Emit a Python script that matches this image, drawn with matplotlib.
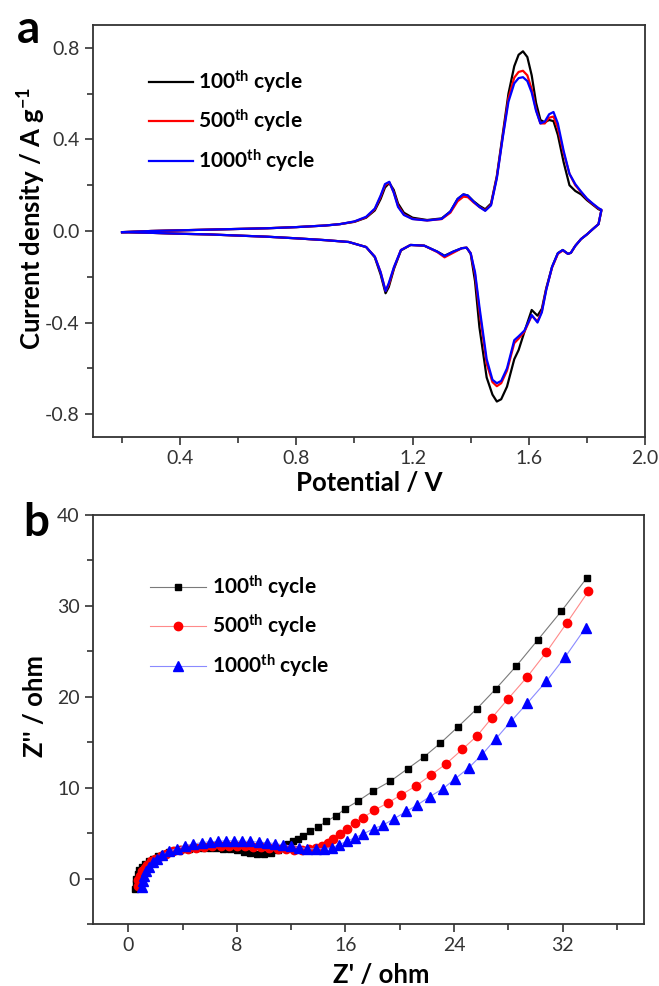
import matplotlib
matplotlib.use("Agg")
import matplotlib.pyplot as plt
from matplotlib.ticker import MultipleLocator

plt.rcParams['font.family'] = ['Lato', 'DejaVu Sans']
plt.rcParams['mathtext.default'] = 'regular'

cycles = ["100$^{th}$ cycle", "500$^{th}$ cycle", "1000$^{th}$ cycle"]
colors = ["#000000", "#ff0000", "#0000ff"]
line_colors_b = ["#7a7a7a", "#ff8a8a", "#8a8aff"]
markers_b = ["s", "o", "^"]

# ---- panel a: cyclic voltammetry (anodic sweep, then cathodic sweep) ----
v_up = [0.20, 0.30, 0.40, 0.50, 0.60, 0.70, 0.80, 0.90, 0.95, 1.00, 1.04, 1.07,
        1.09, 1.105, 1.12, 1.135, 1.15, 1.17, 1.20, 1.25, 1.30, 1.33, 1.355,
        1.375, 1.39, 1.41, 1.43, 1.45, 1.47, 1.49, 1.51, 1.53, 1.55, 1.565,
        1.58, 1.595, 1.61, 1.625, 1.64, 1.655, 1.67, 1.685, 1.70, 1.72, 1.74,
        1.76, 1.78, 1.80, 1.82, 1.84, 1.85]
i_up_100 = [-0.005, 0.000, 0.003, 0.006, 0.009, 0.012, 0.017, 0.024, 0.030, 0.040,
            0.058, 0.090, 0.140, 0.190, 0.210, 0.180, 0.120, 0.080, 0.058, 0.048,
            0.055, 0.085, 0.140, 0.160, 0.155, 0.130, 0.110, 0.095, 0.120, 0.240,
            0.420, 0.600, 0.720, 0.770, 0.785, 0.760, 0.680, 0.560, 0.485, 0.475,
            0.485, 0.480, 0.420, 0.300, 0.200, 0.175, 0.160, 0.135, 0.115, 0.095,
            0.090]
i_up_500 = [-0.005, 0.000, 0.003, 0.006, 0.009, 0.012, 0.017, 0.024, 0.030, 0.041,
            0.060, 0.095, 0.150, 0.200, 0.212, 0.170, 0.110, 0.072, 0.053, 0.046,
            0.052, 0.080, 0.130, 0.150, 0.148, 0.125, 0.105, 0.090, 0.115, 0.235,
            0.410, 0.580, 0.670, 0.695, 0.700, 0.680, 0.620, 0.530, 0.470, 0.470,
            0.495, 0.500, 0.450, 0.340, 0.250, 0.200, 0.170, 0.140, 0.118, 0.098,
            0.092]
i_up_1000 = [-0.005, 0.000, 0.003, 0.006, 0.009, 0.012, 0.017, 0.024, 0.030, 0.042,
             0.062, 0.098, 0.155, 0.205, 0.215, 0.168, 0.105, 0.070, 0.052, 0.046,
             0.053, 0.085, 0.140, 0.160, 0.155, 0.128, 0.105, 0.088, 0.112, 0.230,
             0.405, 0.565, 0.645, 0.668, 0.672, 0.655, 0.605, 0.525, 0.470, 0.478,
             0.510, 0.520, 0.470, 0.350, 0.250, 0.205, 0.172, 0.142, 0.120, 0.100,
             0.093]

v_down = [1.85, 1.84, 1.82, 1.80, 1.78, 1.76, 1.745, 1.735, 1.717, 1.70, 1.68,
          1.66, 1.645, 1.63, 1.61, 1.585, 1.565, 1.55, 1.525, 1.505, 1.49, 1.475,
          1.455, 1.43, 1.415, 1.40, 1.386, 1.37, 1.34, 1.31, 1.285, 1.24, 1.193,
          1.16, 1.136, 1.118, 1.107, 1.09, 1.07, 1.04, 0.98, 0.90, 0.80, 0.70,
          0.60, 0.50, 0.40, 0.30, 0.20]
i_down_100 = [0.090, 0.030, 0.008, -0.015, -0.035, -0.065, -0.095, -0.100, -0.083,
              -0.097, -0.157, -0.250, -0.340, -0.370, -0.345, -0.440, -0.520, -0.560,
              -0.680, -0.735, -0.745, -0.715, -0.640, -0.420, -0.220, -0.100, -0.073,
              -0.075, -0.090, -0.108, -0.090, -0.064, -0.061, -0.085, -0.165, -0.245,
              -0.272, -0.190, -0.115, -0.070, -0.048, -0.040, -0.032, -0.025, -0.020,
              -0.015, -0.012, -0.008, -0.005]
i_down_500 = [0.092, 0.030, 0.008, -0.015, -0.035, -0.065, -0.095, -0.100, -0.085,
              -0.100, -0.160, -0.255, -0.350, -0.395, -0.370, -0.440, -0.470, -0.490,
              -0.610, -0.665, -0.678, -0.660, -0.580, -0.350, -0.190, -0.097, -0.073,
              -0.075, -0.095, -0.115, -0.092, -0.064, -0.061, -0.083, -0.160, -0.235,
              -0.262, -0.180, -0.112, -0.070, -0.048, -0.040, -0.032, -0.025, -0.020,
              -0.015, -0.012, -0.008, -0.005]
i_down_1000 = [0.093, 0.030, 0.008, -0.015, -0.035, -0.065, -0.095, -0.100, -0.083,
               -0.097, -0.157, -0.258, -0.355, -0.400, -0.367, -0.435, -0.460, -0.477,
               -0.600, -0.655, -0.665, -0.650, -0.560, -0.330, -0.180, -0.097, -0.073,
               -0.075, -0.090, -0.110, -0.090, -0.064, -0.061, -0.083, -0.157, -0.228,
               -0.262, -0.180, -0.112, -0.070, -0.048, -0.040, -0.032, -0.025, -0.020,
               -0.015, -0.012, -0.008, -0.005]

# ---- panel b: Nyquist plots ----
zre_100 = [0.5, 0.55, 0.6, 0.7, 0.8, 1.0, 1.2, 1.5, 1.8, 2.2, 2.6, 3.0, 3.5, 4.0,
           4.5, 5.0, 5.5, 6.0, 6.5, 7.0, 7.5, 8.0, 8.5, 9.0, 9.5, 10.0, 10.5, 11.0,
           11.4, 11.8, 12.1, 12.5, 12.9, 13.4, 14.0, 14.6, 15.3, 16.0, 16.9, 18.0,
           19.3, 20.6, 21.8, 23.0, 24.3, 25.7, 27.1, 28.6, 30.2, 31.9, 33.8]
zim_100 = [-1.1, -0.5, 0.0, 0.5, 0.9, 1.3, 1.6, 1.9, 2.2, 2.5, 2.7, 2.9, 3.1, 3.2,
           3.3, 3.4, 3.4, 3.4, 3.4, 3.3, 3.2, 3.1, 2.9, 2.8, 2.7, 2.7, 2.8, 3.1,
           3.4, 3.8, 4.1, 4.4, 4.7, 5.2, 5.7, 6.3, 6.9, 7.7, 8.5, 9.6, 10.7, 12.1,
           13.4, 14.9, 16.7, 18.7, 20.9, 23.4, 26.3, 29.4, 33.1]
zre_500 = [0.7, 0.75, 0.85, 1.0, 1.2, 1.4, 1.7, 2.0, 2.4, 2.8, 3.3, 3.8, 4.4, 5.0,
           5.6, 6.2, 6.8, 7.4, 8.0, 8.6, 9.2, 9.8, 10.4, 11.0, 11.6, 12.2, 12.8,
           13.3, 13.8, 14.3, 14.7, 15.1, 15.6, 16.1, 16.7, 17.3, 18.1, 19.1, 20.1,
           21.2, 22.3, 23.4, 24.6, 25.7, 26.8, 28.0, 29.4, 30.8, 32.3, 33.9]
zim_500 = [-0.8, -0.2, 0.3, 0.8, 1.2, 1.5, 1.9, 2.2, 2.5, 2.75, 3.0, 3.15, 3.3, 3.4,
           3.5, 3.55, 3.6, 3.6, 3.6, 3.55, 3.5, 3.45, 3.35, 3.25, 3.2, 3.15, 3.15,
           3.2, 3.35, 3.6, 3.9, 4.3, 4.9, 5.5, 6.1, 6.7, 7.5, 8.3, 9.2, 10.2, 11.4,
           12.6, 14.2, 15.7, 17.7, 19.8, 22.2, 24.9, 28.1, 31.6]
zre_1000 = [1.0, 1.05, 1.15, 1.3, 1.5, 1.8, 2.1, 2.5, 3.0, 3.6, 4.2, 4.8, 5.4, 6.0,
            6.6, 7.2, 7.8, 8.4, 9.0, 9.6, 10.2, 10.8, 11.4, 12.0, 12.6, 13.2, 13.8,
            14.4, 15.0, 15.5, 16.1, 16.7, 17.3, 18.1, 18.8, 19.6, 20.5, 21.3, 22.2,
            23.2, 24.1, 25.1, 26.1, 27.1, 28.2, 29.4, 30.8, 32.2, 33.7]
zim_1000 = [-0.9, -0.3, 0.3, 0.8, 1.3, 1.8, 2.2, 2.6, 3.0, 3.3, 3.6, 3.8, 3.95, 4.05,
            4.1, 4.15, 4.15, 4.1, 4.1, 4.0, 3.95, 3.85, 3.7, 3.55, 3.4, 3.3, 3.25,
            3.3, 3.4, 3.7, 4.1, 4.5, 4.9, 5.5, 5.9, 6.6, 7.4, 8.1, 9.0, 9.9, 11.0,
            12.2, 13.7, 15.4, 17.3, 19.3, 21.7, 24.4, 27.6]

fig = plt.figure(figsize=(6.59, 9.86), dpi=100)
W, H = 659, 986
ax1 = fig.add_axes([93 / W, 1 - 437 / H, (645 - 93) / W, (437 - 25) / H])
ax2 = fig.add_axes([93 / W, 1 - 924 / H, (644 - 93) / W, (924 - 515) / H])

for v, c, lab in zip([(i_up_100, i_down_100), (i_up_500, i_down_500),
                      (i_up_1000, i_down_1000)], colors, cycles):
    ax1.plot(v_up + v_down, v[0] + v[1], color=c, lw=1.6, label=lab)

ax1.set_xlim(0.1, 2.0)
ax1.set_ylim(-0.9, 0.9)
ax1.xaxis.set_minor_locator(MultipleLocator(0.2))
ax1.yaxis.set_minor_locator(MultipleLocator(0.2))
ax1.set_xticks([0.4, 0.8, 1.2, 1.6, 2.0])
ax1.set_xticklabels(["0.4", "0.8", "1.2", "1.6", "2.0"])
ax1.set_yticks([-0.8, -0.4, 0.0, 0.4, 0.8])
ax1.set_yticklabels(["-0.8", "-0.4", "0.0", "0.4", "0.8"])
ax1.set_xlabel("Potential / V", fontsize=18.5, fontweight="bold", labelpad=3)
ax1.set_ylabel("Current density / A g$^{-1}$", fontsize=18.5, fontweight="bold")
ax1.yaxis.set_label_coords(-0.082, 0.53)
ax1.legend(loc="center left", bbox_to_anchor=(139 / W, 1 - 121 / H),
           bbox_transform=fig.transFigure, frameon=False, borderpad=0,
           prop={"weight": "bold", "size": 15}, handlelength=2.1,
           handletextpad=0.25, labelspacing=0.6)

for zr, zi, c, lc, m, lab in zip([zre_100, zre_500, zre_1000],
                                 [zim_100, zim_500, zim_1000],
                                 colors, line_colors_b, markers_b, cycles):
    ms = {"s": 5, "o": 6, "^": 7.5}[m]
    ax2.plot(zr, zi, color=lc, lw=0.8, marker=m, ms=ms, mfc=c, mec=c, label=lab)

ax2.set_xlim(-2.6, 38)
ax2.set_ylim(-5, 40)
ax2.xaxis.set_major_locator(MultipleLocator(8))
ax2.xaxis.set_minor_locator(MultipleLocator(4))
ax2.yaxis.set_major_locator(MultipleLocator(10))
ax2.yaxis.set_minor_locator(MultipleLocator(5))
ax2.set_xlabel("Z' / ohm", fontsize=18.5, fontweight="bold")
ax2.xaxis.set_label_coords(0.523, -0.095)
ax2.set_ylabel("Z'' / ohm", fontsize=18.5, fontweight="bold")
ax2.yaxis.set_label_coords(-0.083, 0.533)
ax2.legend(loc="center left", bbox_to_anchor=(140 / W, 1 - 626 / H),
           bbox_transform=fig.transFigure, frameon=False, borderpad=0,
           prop={"weight": "bold", "size": 15}, handlelength=2.65,
           handletextpad=0.3, labelspacing=0.6)

for ax in (ax1, ax2):
    for sp in ax.spines.values():
        sp.set_linewidth(1.3)
        sp.set_color("#333333")
    ax.tick_params(which="both", direction="out", top=False, right=False,
                   labelsize=14, colors="#333333", labelcolor="#333333")
    ax.tick_params(which="major", length=6, width=1.2)
    ax.tick_params(which="minor", length=4, width=1.2)

fig.text(29 / W, 1 - 30 / H, "a", fontsize=33, fontweight="bold",
         ha="center", va="center")
fig.text(36 / W, 1 - 523 / H, "b", fontsize=33, fontweight="bold",
         ha="center", va="center")

fig.savefig("out.png", dpi=100)
